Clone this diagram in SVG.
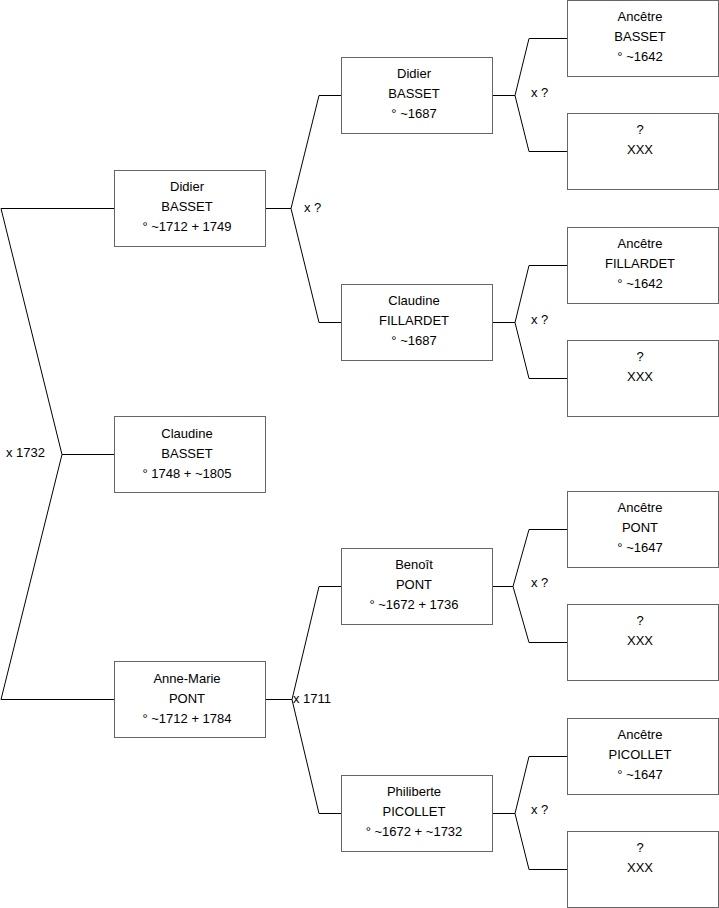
<svg xmlns="http://www.w3.org/2000/svg" width="719" height="908" viewBox="0 0 719 908">
<style>
.box{fill:#fff;stroke:#666;stroke-width:1}
.ln{fill:none;stroke:#000;stroke-width:1}
text{font-family:"Liberation Sans",Arial,sans-serif;font-size:13px;fill:#000}
.c{text-anchor:middle}
</style>
<rect width="719" height="908" fill="#fff"/>
<g id="connectors">
<path class="ln" d="M114,208.5 H1 L62,454.5 L1,699.5 H114 M62,454.5 H114"/>
<path class="ln" d="M265,208.5 H291 L319,95.5 H341 M291,208.5 L319,322.5 H341"/>
<path class="ln" d="M265,699.5 H292 L319,586.5 H341 M292,699.5 L319,813.5 H341"/>
<path class="ln" d="M492,95.5 H515 L529,38.5 H567 M515,95.5 L529,151.5 H567"/>
<path class="ln" d="M492,322.5 H515 L529,265.5 H567 M515,322.5 L529,378.5 H567"/>
<path class="ln" d="M492,586.5 H513 L529,529.5 H567 M513,586.5 L529,642.5 H567"/>
<path class="ln" d="M492,813.5 H515 L529,756.5 H567 M515,813.5 L529,869.5 H567"/>
<text x="6" y="457">x 1732</text>
<text x="304" y="212">x ?</text>
<text x="293" y="703">x 1711</text>
<text x="531" y="97">x ?</text>
<text x="531" y="324">x ?</text>
<text x="531" y="587">x ?</text>
<text x="531" y="814">x ?</text>
</g>
<g id="n_didier1"><rect class="box" x="114.5" y="170.5" width="151" height="76"/>
<text class="c" x="187" y="191">Didier</text><text class="c" x="187" y="211">BASSET</text><text class="c" x="187" y="231">° ~1712 + 1749</text></g>
<g id="n_claudine"><rect class="box" x="114.5" y="416.5" width="151" height="76"/>
<text class="c" x="187" y="438">Claudine</text><text class="c" x="187" y="458">BASSET</text><text class="c" x="187" y="478">° 1748 + ~1805</text></g>
<g id="n_annemarie"><rect class="box" x="114.5" y="661.5" width="151" height="76"/>
<text class="c" x="187" y="683">Anne-Marie</text><text class="c" x="187" y="703">PONT</text><text class="c" x="187" y="723">° ~1712 + 1784</text></g>
<g id="n_didier2"><rect class="box" x="341.5" y="57.5" width="151" height="76"/>
<text class="c" x="414" y="78">Didier</text><text class="c" x="414" y="98">BASSET</text><text class="c" x="414" y="118">° ~1687</text></g>
<g id="n_fillardet"><rect class="box" x="341.5" y="284.5" width="151" height="76"/>
<text class="c" x="414" y="305">Claudine</text><text class="c" x="414" y="325">FILLARDET</text><text class="c" x="414" y="345">° ~1687</text></g>
<g id="n_benoit"><rect class="box" x="341.5" y="548.5" width="151" height="76"/>
<text class="c" x="414" y="569">Benoît</text><text class="c" x="414" y="589">PONT</text><text class="c" x="414" y="609">° ~1672 + 1736</text></g>
<g id="n_philiberte"><rect class="box" x="341.5" y="775.5" width="151" height="76"/>
<text class="c" x="414" y="796">Philiberte</text><text class="c" x="414" y="816">PICOLLET</text><text class="c" x="414" y="836">° ~1672 + ~1732</text></g>
<g id="n_a_basset"><rect class="box" x="567.5" y="0.5" width="151" height="76"/>
<text class="c" x="640" y="21">Ancêtre</text><text class="c" x="640" y="41">BASSET</text><text class="c" x="640" y="61">° ~1642</text></g>
<g id="n_x1"><rect class="box" x="567.5" y="113.5" width="151" height="76"/>
<text class="c" x="640" y="134">?</text><text class="c" x="640" y="154">XXX</text></g>
<g id="n_a_fillardet"><rect class="box" x="567.5" y="227.5" width="151" height="76"/>
<text class="c" x="640" y="248">Ancêtre</text><text class="c" x="640" y="268">FILLARDET</text><text class="c" x="640" y="288">° ~1642</text></g>
<g id="n_x2"><rect class="box" x="567.5" y="340.5" width="151" height="76"/>
<text class="c" x="640" y="361">?</text><text class="c" x="640" y="381">XXX</text></g>
<g id="n_a_pont"><rect class="box" x="567.5" y="491.5" width="151" height="76"/>
<text class="c" x="640" y="512">Ancêtre</text><text class="c" x="640" y="532">PONT</text><text class="c" x="640" y="552">° ~1647</text></g>
<g id="n_x3"><rect class="box" x="567.5" y="604.5" width="151" height="76"/>
<text class="c" x="640" y="625">?</text><text class="c" x="640" y="645">XXX</text></g>
<g id="n_a_picollet"><rect class="box" x="567.5" y="718.5" width="151" height="76"/>
<text class="c" x="640" y="739">Ancêtre</text><text class="c" x="640" y="759">PICOLLET</text><text class="c" x="640" y="779">° ~1647</text></g>
<g id="n_x4"><rect class="box" x="567.5" y="831.5" width="151" height="76"/>
<text class="c" x="640" y="852">?</text><text class="c" x="640" y="872">XXX</text></g>
</svg>
